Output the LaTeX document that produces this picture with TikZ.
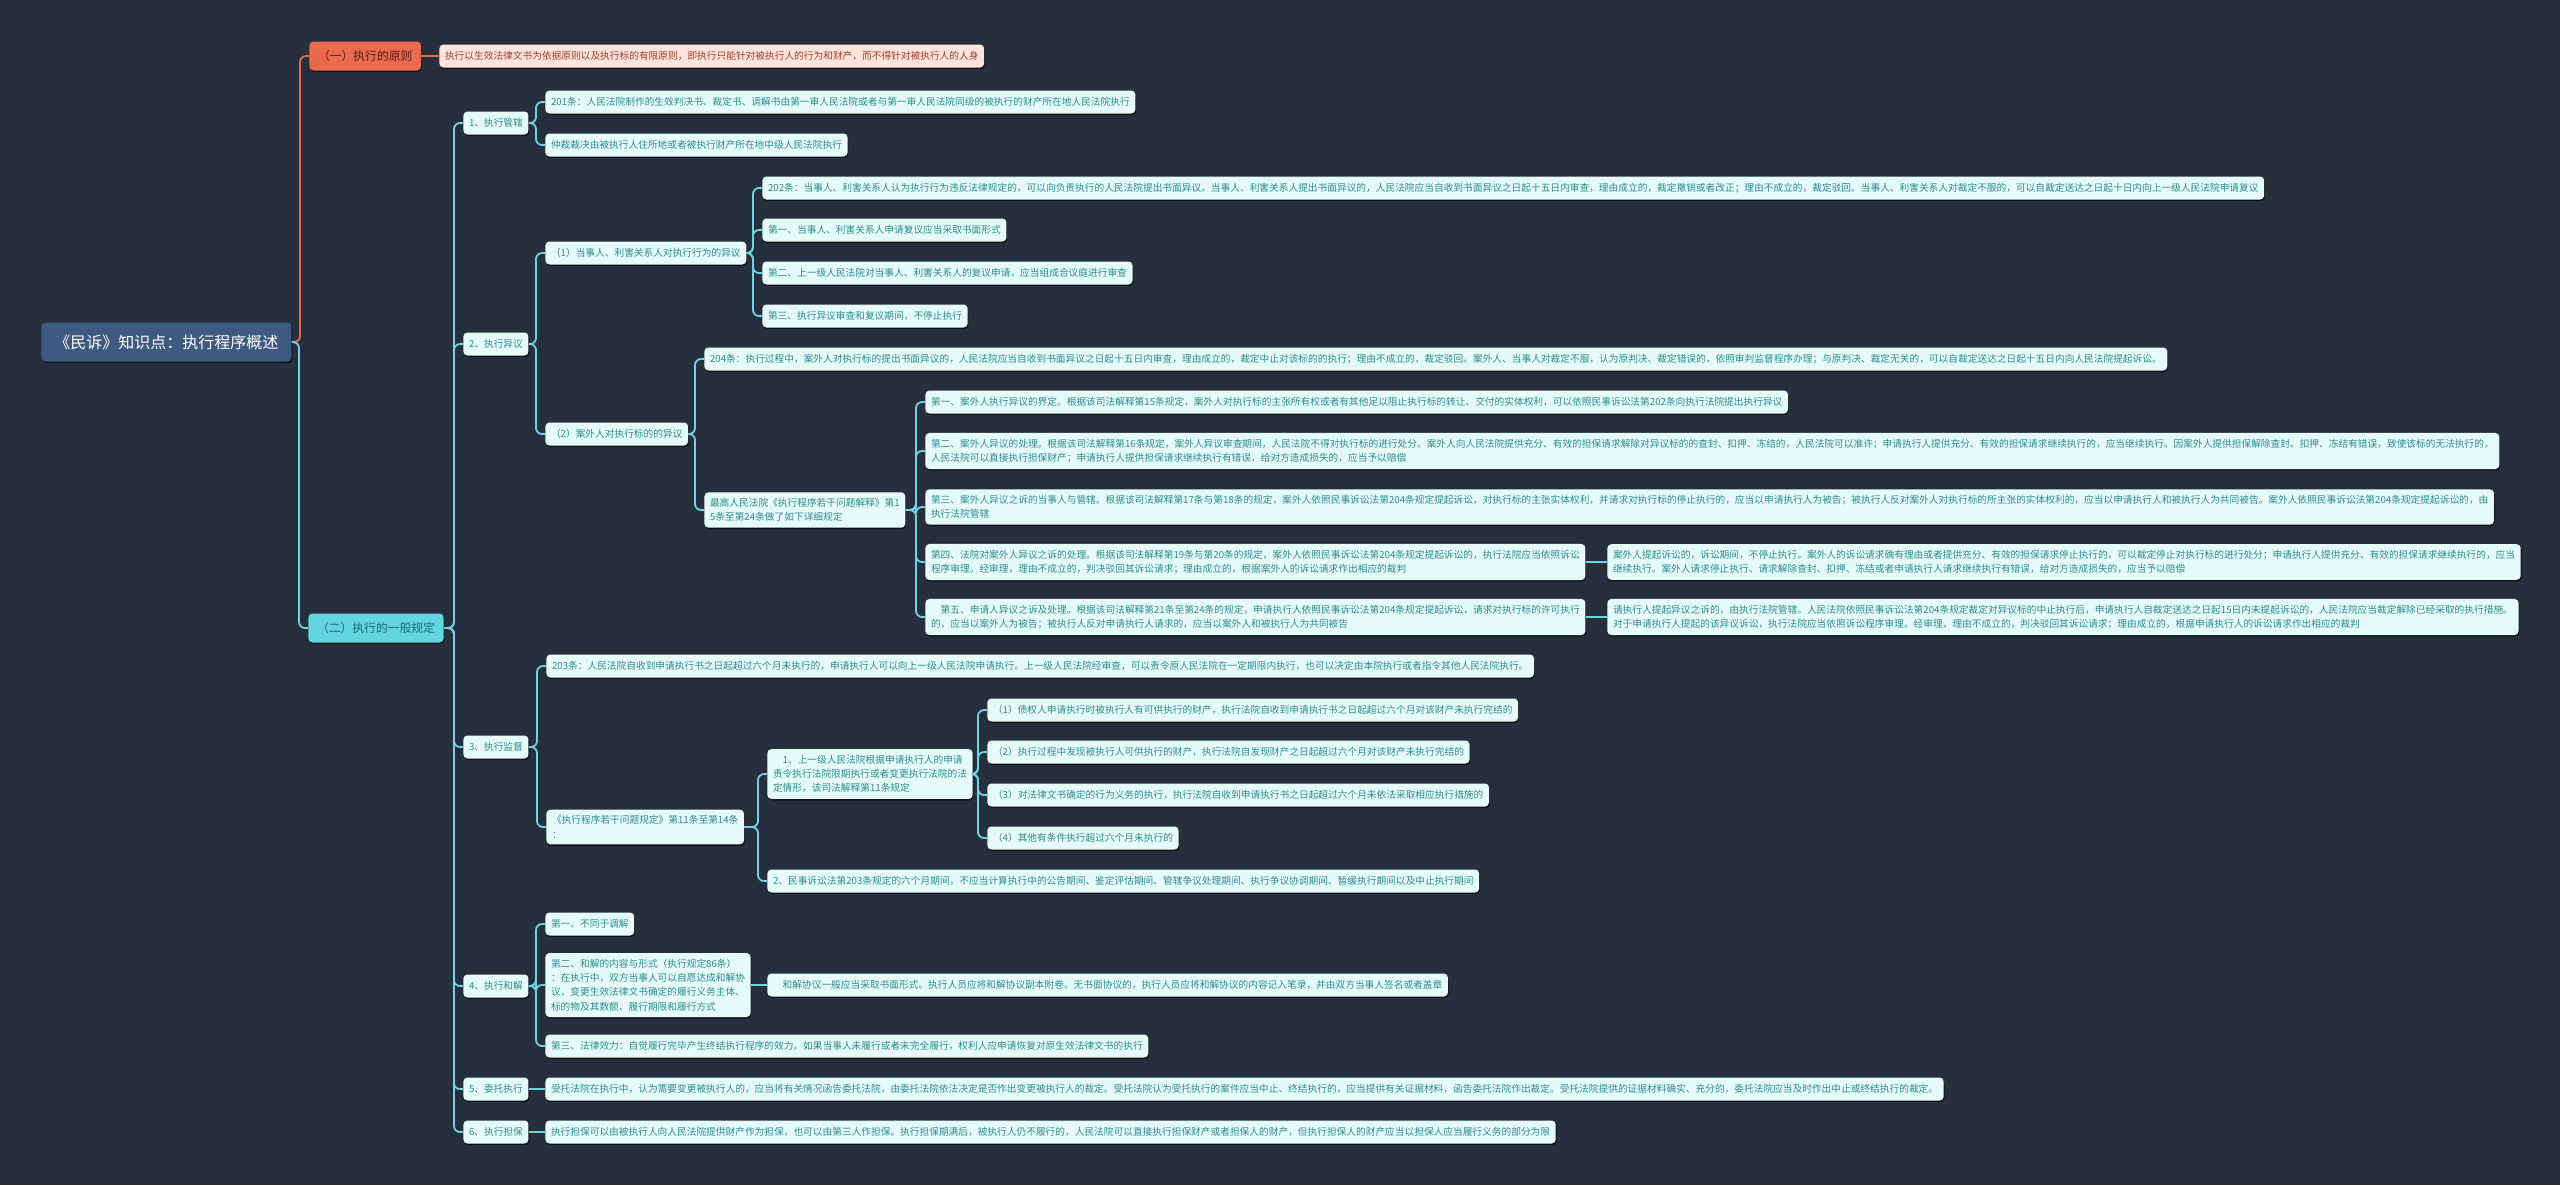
\documentclass[tikz,border=0pt]{standalone}
\usepackage{fontspec}
\setmainfont{Noto Sans CJK SC}
\usepackage{xcolor}
\usetikzlibrary{positioning,shadows,calc}

\definecolor{bg}{HTML}{282F3C}
\definecolor{rootfill}{HTML}{3E5A80}
\definecolor{orangefill}{HTML}{EA6A4D}
\definecolor{orangetext}{HTML}{5C1A0E}
\definecolor{pinkfill}{HTML}{FFE4DD}
\definecolor{pinktext}{HTML}{A03C2C}
\definecolor{cyanfill}{HTML}{62D5E0}
\definecolor{cyantext}{HTML}{1B6A72}
\definecolor{leaffill}{HTML}{E6FAFA}
\definecolor{leaftext}{HTML}{2C8C8E}
\definecolor{linecyan}{HTML}{6AD6E4}
\definecolor{lineorange}{HTML}{E8684C}

\begin{document}
\begin{tikzpicture}[x=0.5pt, y=-0.5pt,
  box/.style={anchor=west, rounded corners=2pt, inner ysep=3pt, align=left,
    drop shadow={shadow xshift=0.4pt, shadow yshift=-0.8pt, opacity=0.6, fill=black}},
  leaf/.style={box, fill=leaffill, text=leaftext, inner xsep=2.8pt, minimum height=11.5pt,
    font=\fontsize{4.85}{7.15}\selectfont},
  orangeleaf/.style={leaf, fill=pinkfill, text=pinktext},
  topic/.style={box, inner xsep=4.3pt, minimum height=14.5pt, font=\fontsize{5.9}{7}\selectfont},
  rootbox/.style={box, fill=rootfill, text=white, inner xsep=6.5pt, minimum height=19.5pt,
    font=\fontsize{8}{9}\selectfont},
  conn/.style={draw=linecyan, line width=0.9pt, rounded corners=3pt},
  connred/.style={conn, draw=lineorange}]

% background and page size
\fill[bg] (0,0) rectangle (2560,1185);
\useasboundingbox (0,0) rectangle (2560,1185);

% root and the two main topics
\node[rootbox] (root) at (41,342) {《民诉》知识点：执行程序概述};
\node[topic, fill=orangefill, text=orangetext] (yi) at (309,56) {（一）执行的原则};
\node[topic, fill=cyanfill, text=cyantext] (er) at (308,628) {（二）执行的一般规定};
\node[orangeleaf] (yileaf) at (439,56) {执行以生效法律文书为依据原则以及执行标的有限原则，即执行只能针对被执行人的行为和财产，而不得针对被执行人的人身};

% second level
\node[leaf] (g1) at (463,123) {1、执行管辖};
\node[leaf] (g2) at (463,344) {2、执行异议};
\node[leaf] (g3) at (463,747) {3、执行监督};
\node[leaf] (g4) at (463,986) {4、执行和解};
\node[leaf] (g5) at (463,1089) {5、委托执行};
\node[leaf] (g6) at (463,1132) {6、执行担保};

% 1 执行管辖
\node[leaf] (a201) at (545,102) {201条：人民法院制作的生效判决书、裁定书、调解书由第一审人民法院或者与第一审人民法院同级的被执行的财产所在地人民法院执行};
\node[leaf] (zhongcai) at (545,145) {仲裁裁决由被执行人住所地或者被执行财产所在地中级人民法院执行};

% 2 执行异议
\node[leaf] (y1) at (545,253) {（1）当事人、利害关系人对执行行为的异议};
\node[leaf] (y2) at (545,434) {（2）案外人对执行标的的异议};
\node[leaf] (a202) at (762,188) {202条：当事人、利害关系人认为执行行为违反法律规定的，可以向负责执行的人民法院提出书面异议。当事人、利害关系人提出书面异议的，人民法院应当自收到书面异议之日起十五日内审查，理由成立的，裁定撤销或者改正；理由不成立的，裁定驳回。当事人、利害关系人对裁定不服的，可以自裁定送达之日起十日内向上一级人民法院申请复议};
\node[leaf] (y1a) at (762,230) {第一、当事人、利害关系人申请复议应当采取书面形式};
\node[leaf] (y1b) at (762,273) {第二、上一级人民法院对当事人、利害关系人的复议申请，应当组成合议庭进行审查};
\node[leaf] (y1c) at (762,316) {第三、执行异议审查和复议期间，不停止执行};
\node[leaf] (a204) at (704,359) {204条：执行过程中，案外人对执行标的提出书面异议的，人民法院应当自收到书面异议之日起十五日内审查，理由成立的，裁定中止对该标的的执行；理由不成立的，裁定驳回。案外人、当事人对裁定不服，认为原判决、裁定错误的，依照审判监督程序办理；与原判决、裁定无关的，可以自裁定送达之日起十五日内向人民法院提起诉讼。};
\node[leaf] (zuigao) at (704,510) {最高人民法院《执行程序若干问题解释》第1\\5条至第24条做了如下详细规定};
\node[leaf] (z1) at (925,402) {第一、案外人执行异议的界定。根据该司法解释第15条规定，案外人对执行标的主张所有权或者有其他足以阻止执行标的转让、交付的实体权利，可以依照民事诉讼法第202条向执行法院提出执行异议};
\node[leaf] (z2) at (925,451) {第二、案外人异议的处理。根据该司法解释第16条规定，案外人异议审查期间，人民法院不得对执行标的进行处分。案外人向人民法院提供充分、有效的担保请求解除对异议标的的查封、扣押、冻结的，人民法院可以准许；申请执行人提供充分、有效的担保请求继续执行的，应当继续执行。因案外人提供担保解除查封、扣押、冻结有错误，致使该标的无法执行的，\\人民法院可以直接执行担保财产；申请执行人提供担保请求继续执行有错误，给对方造成损失的，应当予以赔偿};
\node[leaf] (z3) at (925,507) {第三、案外人异议之诉的当事人与管辖。根据该司法解释第17条与第18条的规定，案外人依照民事诉讼法第204条规定提起诉讼，对执行标的主张实体权利，并请求对执行标的停止执行的，应当以申请执行人为被告；被执行人反对案外人对执行标的所主张的实体权利的，应当以申请执行人和被执行人为共同被告。案外人依照民事诉讼法第204条规定提起诉讼的，由\\执行法院管辖};
\node[leaf] (z4) at (925,562) {第四、法院对案外人异议之诉的处理。根据该司法解释第19条与第20条的规定，案外人依照民事诉讼法第204条规定提起诉讼的，执行法院应当依照诉讼\\程序审理。经审理，理由不成立的，判决驳回其诉讼请求；理由成立的，根据案外人的诉讼请求作出相应的裁判};
\node[leaf] (z5) at (925,617) {　第五、申请人异议之诉及处理。根据该司法解释第21条至第24条的规定，申请执行人依照民事诉讼法第204条规定提起诉讼，请求对执行标的许可执行\\的，应当以案外人为被告；被执行人反对申请执行人请求的，应当以案外人和被执行人为共同被告};
\node[leaf] (z4c) at (1607,562) {案外人提起诉讼的，诉讼期间，不停止执行。案外人的诉讼请求确有理由或者提供充分、有效的担保请求停止执行的，可以裁定停止对执行标的进行处分；申请执行人提供充分、有效的担保请求继续执行的，应当\\继续执行。案外人请求停止执行、请求解除查封、扣押、冻结或者申请执行人请求继续执行有错误，给对方造成损失的，应当予以赔偿};
\node[leaf] (z5c) at (1607,617) {请执行人提起异议之诉的，由执行法院管辖。人民法院依照民事诉讼法第204条规定裁定对异议标的中止执行后，申请执行人自裁定送达之日起15日内未提起诉讼的，人民法院应当裁定解除已经采取的执行措施。\\对于申请执行人提起的该异议诉讼，执行法院应当依照诉讼程序审理。经审理，理由不成立的，判决驳回其诉讼请求；理由成立的，根据申请执行人的诉讼请求作出相应的裁判};

% 3 执行监督
\node[leaf] (a203) at (546,666) {203条：人民法院自收到申请执行书之日起超过六个月未执行的，申请执行人可以向上一级人民法院申请执行。上一级人民法院经审查，可以责令原人民法院在一定期限内执行，也可以决定由本院执行或者指令其他人民法院执行。};
\node[leaf] (guiding) at (546,827) {《执行程序若干问题规定》第11条至第14条\\：};
\node[leaf] (gd1) at (767,774) {　1、上一级人民法院根据申请执行人的申请\\责令执行法院限期执行或者变更执行法院的法\\定情形，该司法解释第11条规定};
\node[leaf] (gd2) at (767,881) {2、民事诉讼法第203条规定的六个月期间，不应当计算执行中的公告期间、鉴定评估期间、管辖争议处理期间、执行争议协调期间、暂缓执行期间以及中止执行期间};
\node[leaf] (c1) at (987,710) {（1）债权人申请执行时被执行人有可供执行的财产，执行法院自收到申请执行书之日起超过六个月对该财产未执行完结的};
\node[leaf] (c2) at (987,752) {（2）执行过程中发现被执行人可供执行的财产，执行法院自发现财产之日起超过六个月对该财产未执行完结的};
\node[leaf] (c3) at (987,795) {（3）对法律文书确定的行为义务的执行，执行法院自收到申请执行书之日起超过六个月未依法采取相应执行措施的};
\node[leaf] (c4) at (987,838) {（4）其他有条件执行超过六个月未执行的};

% 4 执行和解
\node[leaf] (h1) at (545,924) {第一、不同于调解};
\node[leaf] (h2) at (545,985) {第二、和解的内容与形式（执行规定86条）\\：在执行中，双方当事人可以自愿达成和解协\\议，变更生效法律文书确定的履行义务主体、\\标的物及其数额、履行期限和履行方式};
\node[leaf] (h2c) at (767,985) {　和解协议一般应当采取书面形式。执行人员应将和解协议副本附卷。无书面协议的，执行人员应将和解协议的内容记入笔录，并由双方当事人签名或者盖章};
\node[leaf] (h3) at (545,1046) {第三、法律效力：自觉履行完毕产生终结执行程序的效力。如果当事人未履行或者未完全履行，权利人应申请恢复对原生效法律文书的执行};

% 5 委托执行, 6 执行担保
\node[leaf] (w5) at (545,1089) {受托法院在执行中，认为需要变更被执行人的，应当将有关情况函告委托法院，由委托法院依法决定是否作出变更被执行人的裁定。受托法院认为受托执行的案件应当中止、终结执行的，应当提供有关证据材料，函告委托法院作出裁定。受托法院提供的证据材料确实、充分的，委托法院应当及时作出中止或终结执行的裁定。};
\node[leaf] (d6) at (545,1132) {执行担保可以由被执行人向人民法院提供财产作为担保，也可以由第三人作担保。执行担保期满后，被执行人仍不履行的，人民法院可以直接执行担保财产或者担保人的财产，但执行担保人的财产应当以担保人应当履行义务的部分为限};

% connectors
\draw[connred] (root.east) -| ($(yi.west)+(-9,0)$) -- (yi.west);
\draw[connred] (yi.east) -- (yileaf.west);
\draw[conn] (root.east) -| ($(er.west)+(-9,0)$) -- (er.west);
\draw[conn] (er.east) -| ($(g1.west)+(-9,0)$) -- (g1.west);
\draw[conn] (er.east) -| ($(g2.west)+(-9,0)$) -- (g2.west);
\draw[conn] (er.east) -| ($(g3.west)+(-9,0)$) -- (g3.west);
\draw[conn] (er.east) -| ($(g4.west)+(-9,0)$) -- (g4.west);
\draw[conn] (er.east) -| ($(g5.west)+(-9,0)$) -- (g5.west);
\draw[conn] (er.east) -| ($(g6.west)+(-9,0)$) -- (g6.west);
\draw[conn] (g1.east) -| ($(a201.west)+(-9,0)$) -- (a201.west);
\draw[conn] (g1.east) -| ($(zhongcai.west)+(-9,0)$) -- (zhongcai.west);
\draw[conn] (g2.east) -| ($(y1.west)+(-9,0)$) -- (y1.west);
\draw[conn] (g2.east) -| ($(y2.west)+(-9,0)$) -- (y2.west);
\draw[conn] (y1.east) -| ($(a202.west)+(-9,0)$) -- (a202.west);
\draw[conn] (y1.east) -| ($(y1a.west)+(-9,0)$) -- (y1a.west);
\draw[conn] (y1.east) -| ($(y1b.west)+(-9,0)$) -- (y1b.west);
\draw[conn] (y1.east) -| ($(y1c.west)+(-9,0)$) -- (y1c.west);
\draw[conn] (y2.east) -| ($(a204.west)+(-9,0)$) -- (a204.west);
\draw[conn] (y2.east) -| ($(zuigao.west)+(-9,0)$) -- (zuigao.west);
\draw[conn] (zuigao.east) -| ($(z1.west)+(-9,0)$) -- (z1.west);
\draw[conn] (zuigao.east) -| ($(z2.west)+(-9,0)$) -- (z2.west);
\draw[conn] (zuigao.east) -| ($(z3.west)+(-9,0)$) -- (z3.west);
\draw[conn] (zuigao.east) -| ($(z4.west)+(-9,0)$) -- (z4.west);
\draw[conn] (zuigao.east) -| ($(z5.west)+(-9,0)$) -- (z5.west);
\draw[conn] (z4.east) -- (z4c.west);
\draw[conn] (z5.east) -- (z5c.west);
\draw[conn] (g3.east) -| ($(a203.west)+(-9,0)$) -- (a203.west);
\draw[conn] (g3.east) -| ($(guiding.west)+(-9,0)$) -- (guiding.west);
\draw[conn] (guiding.east) -| ($(gd1.west)+(-9,0)$) -- (gd1.west);
\draw[conn] (guiding.east) -| ($(gd2.west)+(-9,0)$) -- (gd2.west);
\draw[conn] (gd1.east) -| ($(c1.west)+(-9,0)$) -- (c1.west);
\draw[conn] (gd1.east) -| ($(c2.west)+(-9,0)$) -- (c2.west);
\draw[conn] (gd1.east) -| ($(c3.west)+(-9,0)$) -- (c3.west);
\draw[conn] (gd1.east) -| ($(c4.west)+(-9,0)$) -- (c4.west);
\draw[conn] (g4.east) -| ($(h1.west)+(-9,0)$) -- (h1.west);
\draw[conn] (g4.east) -| ($(h2.west)+(-9,0)$) -- (h2.west);
\draw[conn] (g4.east) -| ($(h3.west)+(-9,0)$) -- (h3.west);
\draw[conn] (h2.east) -- (h2c.west);
\draw[conn] (g5.east) -- (w5.west);
\draw[conn] (g6.east) -- (d6.west);

\end{tikzpicture}
\end{document}
